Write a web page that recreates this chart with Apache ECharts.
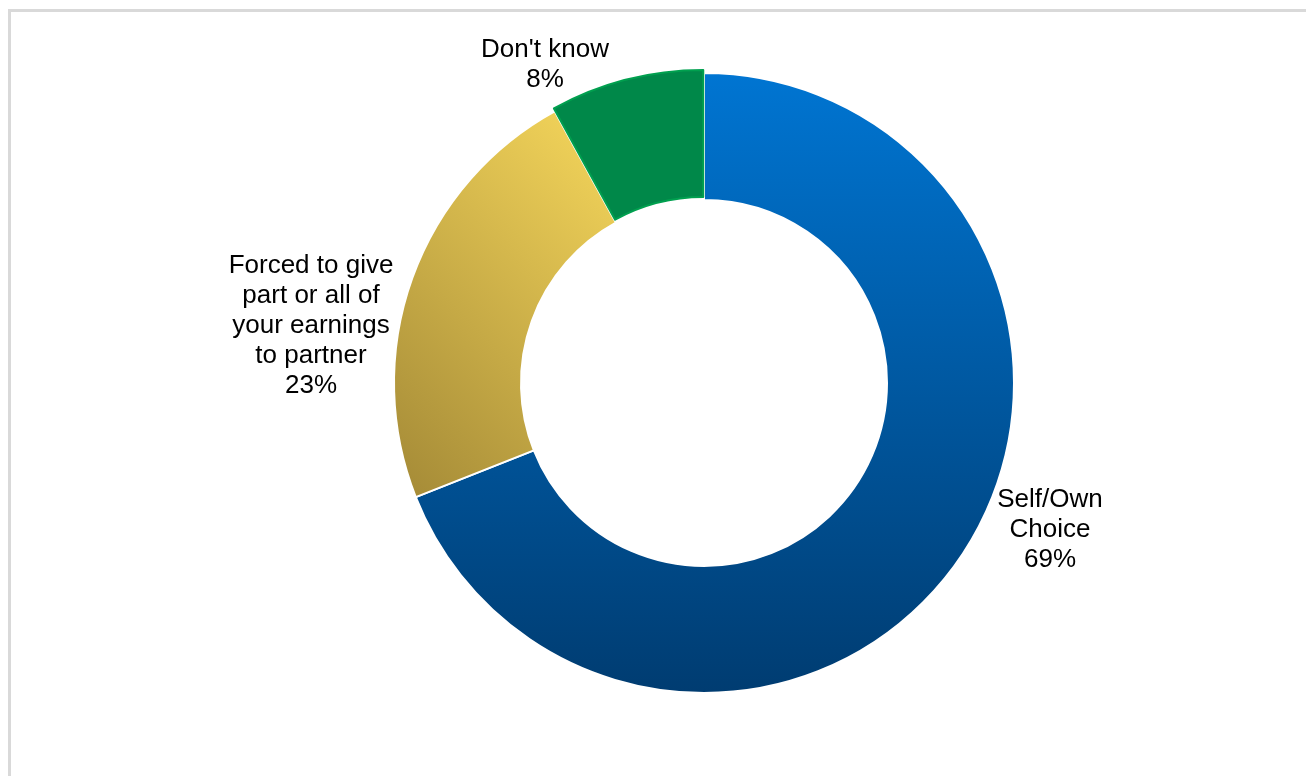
<!DOCTYPE html>
<html>
<head>
<meta charset="utf-8">
<script src="https://cdn.jsdelivr.net/npm/echarts@6/dist/echarts.min.js"></script>
<style>
html,body{margin:0;padding:0;background:#fff;}
#frame{position:absolute;left:8px;top:9px;width:1400px;height:800px;border-left:3px solid #d9d9d9;border-top:3px solid #d9d9d9;}
#chart{position:absolute;left:0;top:0;width:1306px;height:776px;}
</style>
</head>
<body>
<div id="frame"></div>
<div id="chart"></div>
<script>
const categories = ["Self/Own\nChoice", "Forced to give\npart or all of\nyour earnings\nto partner", "Don't know"];
const values = [69, 23, 8];
const labelCenters = [[1050, 530], [311, 326], [545, 65]];

const styles = [
  {color: new echarts.graphic.LinearGradient(0, 0, 0, 1, [{offset: 0, color: '#0075d2'}, {offset: 1, color: '#003c71'}]), borderColor: '#fff', borderWidth: 2},
  {color: new echarts.graphic.LinearGradient(1, 0, -0.38, 0.78, [{offset: 0, color: '#f7d85c'}, {offset: 1, color: '#a38936'}]), borderColor: '#fff', borderWidth: 2},
  {color: '#008849', borderColor: '#00a04f', borderWidth: 2}
];

const chart = echarts.init(document.getElementById('chart'), null, {renderer: 'canvas'});
chart.setOption({
  animation: false,
  graphic: categories.map((n, i) => ({
    type: 'text',
    x: labelCenters[i][0],
    y: labelCenters[i][1],
    silent: true,
    style: {
      text: n + '\n' + values[i] + '%',
      font: '26px "Liberation Sans", Arial, sans-serif',
      lineHeight: 30,
      fill: '#000',
      align: 'center',
      verticalAlign: 'middle'
    }
  })),
  series: [{
    type: 'pie',
    center: [704, 383],
    radius: [183, 310],
    startAngle: 90,
    clockwise: true,
    selectedMode: 'single',
    selectedOffset: 3,
    label: {show: false},
    labelLine: {show: false},
    emphasis: {disabled: true},
    data: categories.map((n, i) => ({name: n, value: values[i], itemStyle: styles[i], selected: i === 2}))
  }]
});
</script>
</body>
</html>
